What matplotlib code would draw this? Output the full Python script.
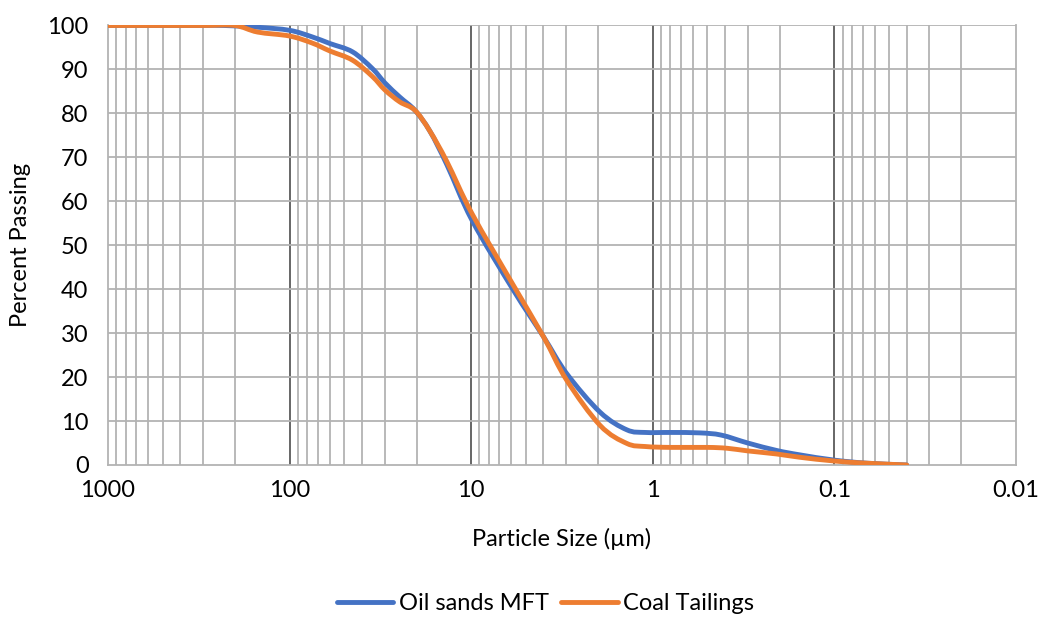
import matplotlib
matplotlib.use("Agg")
import numpy as np
from matplotlib import pyplot as plt
from matplotlib.path import Path
from matplotlib.patches import PathPatch
from matplotlib.lines import Line2D
from matplotlib.ticker import FixedLocator, NullLocator

plt.rcParams['font.family'] = ['Lato', 'DejaVu Sans']

# particle size (um) and percent passing
size_mft = [1000, 500, 300, 230, 150, 100, 75, 60, 45, 35, 29.8, 24.7, 20.4,
            16.9, 13.6, 9.9, 5.86, 4.0, 2.98, 1.95, 1.39, 1.1, 0.8, 0.55, 0.42,
            0.3, 0.208, 0.155, 0.1, 0.066, 0.04]
pass_mft = [100, 100, 100, 100, 99.6, 98.9, 97.4, 95.9, 94.0, 90.2, 86.9, 83.7, 80.7,
            76.0, 68.3, 55.7, 39.8, 29.2, 20.8, 12.0, 8.0, 7.4, 7.4, 7.3, 6.8,
            5.0, 3.3, 2.3, 1.1, 0.4, 0.0]

size_coal = [1000, 500, 300, 200, 150, 100, 75, 60, 45, 35, 29.8, 24.7, 20.4,
             16.9, 13.6, 9.9, 5.86, 4.0, 2.98, 1.95, 1.39, 1.1, 0.8, 0.5, 0.39,
             0.3, 0.208, 0.155, 0.1, 0.066, 0.04]
pass_coal = [100, 100, 100, 100, 98.5, 97.6, 96.0, 94.2, 92.1, 88.4, 85.3, 82.6, 80.7,
             76.0, 69.0, 57.2, 40.9, 29.2, 19.3, 9.0, 4.9, 4.2, 4.0, 4.0, 3.8,
             3.2, 2.5, 1.75, 0.9, 0.4, 0.0]

x_ticks = [1000, 100, 10, 1, 0.1, 0.01]
x_labels = ['1000', '100', '10', '1', '0.1', '0.01']
y_ticks = list(range(0, 101, 10))


def smooth_path(xs, ys):
    # Excel-style smoothed line: cubic Bezier segments through the points,
    # control points built in log-x space then mapped back to data units
    lx = np.log10(xs)
    y = np.asarray(ys, float)
    n = len(lx)
    verts = [(xs[0], y[0])]
    codes = [Path.MOVETO]
    for i in range(n - 1):
        i0 = max(i - 1, 0)
        i3 = min(i + 2, n - 1)
        c1x = lx[i] + (lx[i + 1] - lx[i0]) / 6
        c1y = y[i] + (y[i + 1] - y[i0]) / 6
        c2x = lx[i + 1] - (lx[i3] - lx[i]) / 6
        c2y = y[i + 1] - (y[i3] - y[i]) / 6
        verts += [(10 ** c1x, c1y), (10 ** c2x, c2y), (xs[i + 1], y[i + 1])]
        codes += [Path.CURVE4] * 3
    return Path(verts, codes)


fig = plt.figure(figsize=(10.41, 6.17), dpi=100)
ax = fig.add_axes([0.1037, 0.2464, 0.8723, 0.7123])

ax.set_xscale('log')
ax.set_xlim(1000, 0.01)
ax.set_ylim(0, 100)

# grid: light minor lines, darker inner decade lines
minor = [m * 10.0 ** e for e in range(-2, 3) for m in range(2, 10)]
for v in minor:
    ax.axvline(v, color='#b3b3b3', lw=1.3, zorder=1)
for v in [100, 10, 1, 0.1]:
    ax.axvline(v, color='#5a5a5a', lw=1.3, zorder=1)
for v in y_ticks[1:]:
    ax.axhline(v, color='#b3b3b3', lw=1.3, zorder=1)

for s in ['left', 'bottom', 'right']:
    ax.spines[s].set_color('#b3b3b3')
    ax.spines[s].set_linewidth(1.3)
ax.spines['top'].set_visible(False)

series = [(size_mft, pass_mft, '#4472C4', 'Oil sands MFT'),
          (size_coal, pass_coal, '#ED7D31', 'Coal Tailings')]
handles = []
for k, (xs, ys, col, name) in enumerate(series):
    patch = PathPatch(smooth_path(xs, ys), facecolor='none', edgecolor=col,
                      lw=3.5, capstyle='round', joinstyle='round', zorder=3 + k)
    ax.add_patch(patch)
    handles.append(Line2D([], [], color=col, lw=3.5, solid_capstyle='round', label=name))

ax.xaxis.set_major_locator(FixedLocator(x_ticks))
ax.set_xticklabels(x_labels)
ax.xaxis.set_minor_locator(NullLocator())
ax.set_yticks(y_ticks)
ax.tick_params(axis='both', which='both', length=0, labelsize=17, colors='#000000')
ax.tick_params(axis='x', pad=11)
ax.tick_params(axis='y', pad=14)

ax.set_xlabel('Particle Size (µm)', fontsize=17, labelpad=19)
ax.set_ylabel('Percent Passing', fontsize=17, labelpad=12)

fig.legend(handles=handles, loc='center', bbox_to_anchor=(0.524, 0.022), ncol=2,
           frameon=False, fontsize=17, handlelength=2.4, columnspacing=0.5,
           handletextpad=0.25)

plt.savefig('out.png', dpi=100)
